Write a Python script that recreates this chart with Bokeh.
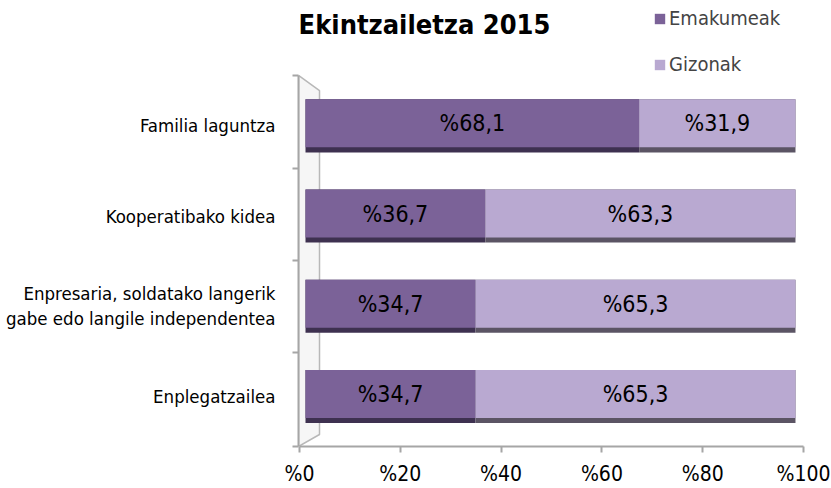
from bokeh.plotting import figure
from bokeh.models import (ColumnDataSource, Range1d, LinearAxis, FixedTicker, Legend,
                          LegendItem, Label)
from bokeh.core.properties import value
from bokeh.embed import file_html
from bokeh.resources import INLINE

# ---- data ----
categories = ["Familia laguntza", "Kooperatibako kidea",
              "Enpresaria, soldatako langerik\ngabe edo langile independentea",
              "Enplegatzailea"]
emakumeak = [68.1, 36.7, 34.7, 34.7]
gizonak = [31.9, 63.3, 65.3, 65.3]
x_ticks = [0, 20, 40, 60, 80, 100]
title_text = "Ekintzailetza 2015"
series_names = ["Emakumeak", "Gizonak"]

FONT = "DejaVu Sans Condensed"
C_W = "#7b6298"
C_M = "#b9a9d1"
C_WS = "#3e3150"
C_MS = "#5b5464"
GRID = "#a6a6a6"

# ---- layout constants (styling only) ----
Y0, Y1 = -0.554, 4.39
X0, X1 = -1.429, 106.33
AX1 = 104.56
BAR_H, BODY_H = 0.588, 0.532
WALL_TOP = 3.559
WALL_DX, WALL_TOP_IN, WALL_BOT_IN = 2.86, 3.392, -0.421

n = len(categories)
ypos = [n - 1 - i for i in range(n)]
fmt = lambda v: "%" + ("%.1f" % v).replace(".", ",")
off = (BAR_H - BODY_H) / 2

src = ColumnDataSource(dict(
    y=ypos,
    yb=[v + off for v in ypos],
    w=emakumeak,
    tot=[a + b for a, b in zip(emakumeak, gizonak)],
    wc=[a / 2 for a in emakumeak],
    mc=[a + b / 2 for a, b in zip(emakumeak, gizonak)],
    wl=[fmt(v) for v in emakumeak],
    ml=[fmt(v) for v in gizonak],
))

p = figure(width=831, height=488, output_backend="svg", toolbar_location=None,
           x_range=Range1d(X0, X1), y_range=Range1d(Y0, Y1),
           min_border_left=298, min_border_right=5, min_border_top=0,
           min_border_bottom=42)
p.outline_line_color = None
p.grid.visible = False
p.background_fill_color = "white"
p.border_fill_color = "white"

# 3D wall at the left
p.patch(x=[X0, WALL_DX, WALL_DX, X0], y=[WALL_TOP, WALL_TOP_IN, WALL_BOT_IN, Y0],
        fill_color="#f6f6f6", line_color="#b8b8b8", line_width=1.5)

# shadows
p.hbar(y="y", left=0, right="w", height=BAR_H, source=src, fill_color=C_WS, line_color=None)
p.hbar(y="y", left="w", right="tot", height=BAR_H, source=src, fill_color=C_MS, line_color=None)
# bodies
rw = p.hbar(y="yb", left=0, right="w", height=BODY_H, source=src, fill_color=C_W, line_color=None)
rm = p.hbar(y="yb", left="w", right="tot", height=BODY_H, source=src, fill_color=C_M, line_color=None)

for col, xc in (("wl", "wc"), ("ml", "mc")):
    p.text(x=xc, y="yb", text=col, source=src, text_align="center", text_baseline="middle",
           text_font=value(FONT), text_font_size="23px", text_color="black")

# axes
p.xaxis.visible = False
p.extra_x_ranges = {"ax": Range1d(-0.198, AX1)}
xa = LinearAxis(x_range_name="ax", ticker=FixedTicker(ticks=x_ticks), bounds=(0, 100))
xa.major_label_overrides = {t: "%" + str(t) for t in x_ticks}
xa.axis_line_color = GRID
xa.axis_line_width = 2
xa.major_tick_line_color = GRID
xa.major_tick_line_width = 2
xa.major_tick_out = 6
xa.major_tick_in = 0
xa.minor_tick_line_color = None
xa.major_label_standoff = 9
xa.major_label_text_font = FONT
xa.major_label_text_font_size = "21px"
xa.major_label_text_color = "black"
p.add_layout(xa, "below")

ya = p.yaxis[0]
ya.bounds = (Y0, WALL_TOP)
ya.ticker = FixedTicker(ticks=ypos, minor_ticks=[Y0, 0.488, 1.508, 2.528, WALL_TOP])
ya.major_label_overrides = {y: c for y, c in zip(ypos, categories)}
ya.axis_line_color = GRID
ya.axis_line_width = 2
ya.major_tick_line_color = None
ya.major_tick_out = 0
ya.major_tick_in = 0
ya.minor_tick_line_color = GRID
ya.minor_tick_line_width = 2
ya.minor_tick_out = 6
ya.minor_tick_in = 0
ya.major_label_standoff = 17
ya.major_label_text_font = FONT
ya.major_label_text_font_size = "18.5px"
ya.major_label_text_color = "black"

legend = Legend(items=[LegendItem(label=series_names[0], renderers=[rw]),
                       LegendItem(label=series_names[1], renderers=[rm])],
                location=(355, 369), orientation="vertical",
                glyph_width=13, glyph_height=13, label_height=26, spacing=20,
                padding=0, margin=0, border_line_color=None,
                background_fill_alpha=0,
                label_text_font=FONT, label_text_font_size="20px", label_standoff=3)
p.add_layout(legend, "center")

title = Label(x=126, y=422, x_units="screen", y_units="screen", text=title_text,
              text_align="center", text_baseline="alphabetic", text_font=FONT,
              text_font_size="27px", text_font_style="bold", text_color="black")
p.add_layout(title)

open("out.html", "w").write(file_html(p, INLINE))
